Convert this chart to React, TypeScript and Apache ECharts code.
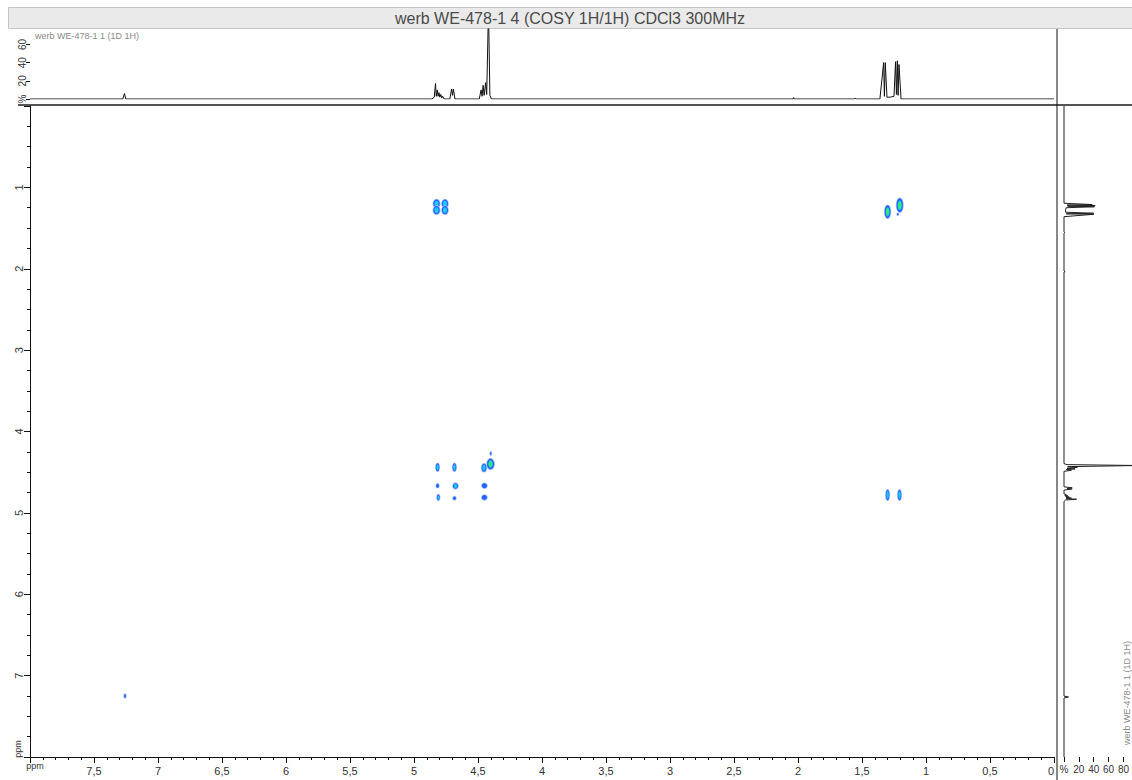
import React, { useEffect, useRef } from "react";
import * as echarts from "echarts";

const TITLE = "werb WE-478-1 4 (COSY 1H/1H) CDCl3 300MHz";
const TRACE_LABEL = "werb WE-478-1 1 (1D 1H)";
const AXIS_UNIT = "ppm";

const PPM_MIN = 0;
const PPM_MAX = 8;
const F2_STEP = 0.5;
const F1_STEP = 1;
const TOP_INT_MAX = 77;
const SIDE_INT_MAX = 90.7;
const INT_STEP = 20;

// 1D proton trace: [ppm, intensity %]
const PROTON_TRACE: number[][] = [
  [8.0, 0], [7.275, 0], [7.262, 6], [7.252, 0],
  [4.86, 0], [4.842, 2], [4.832, 17], [4.826, 3], [4.818, 10], [4.812, 3],
  [4.805, 7], [4.798, 2], [4.79, 5], [4.784, 1], [4.776, 3], [4.765, 0],
  [4.72, 0], [4.706, 11], [4.699, 4], [4.692, 11], [4.68, 0],
  [4.49, 0], [4.476, 10], [4.468, 3], [4.46, 15], [4.452, 4], [4.44, 18],
  [4.432, 5], [4.418, 100], [4.407, 4], [4.395, 0],
  [2.04, 0], [2.034, 1.5], [2.028, 0],
  [1.562, 0], [1.555, 1], [1.548, 0],
  [1.36, 0], [1.331, 40], [1.325, 3], [1.318, 40], [1.305, 2], [1.28, 2],
  [1.25, 3], [1.238, 41], [1.231, 5], [1.224, 42], [1.218, 4], [1.211, 38],
  [1.195, 0], [0, 0],
];

// 2D cross peaks: F2 (x) ppm, F1 (y) ppm, widths in ppm, contour depth
const PEAK_F2 = [4.824, 4.824, 4.758, 4.758, 1.30, 1.205, 1.22, 4.816, 4.684, 4.453, 4.402, 4.40, 4.816, 4.676, 4.45, 4.81, 4.684, 4.45, 1.30, 1.207, 7.258];
const PEAK_F1 = [1.20, 1.28, 1.20, 1.28, 1.30, 1.22, 1.33, 4.44, 4.44, 4.445, 4.40, 4.27, 4.667, 4.67, 4.667, 4.81, 4.82, 4.81, 4.78, 4.78, 7.25];
const PEAK_W2 = [0.05, 0.05, 0.048, 0.048, 0.045, 0.05, 0.012, 0.028, 0.028, 0.038, 0.055, 0.01, 0.022, 0.04, 0.04, 0.022, 0.022, 0.04, 0.028, 0.028, 0.014];
const PEAK_W1 = [0.1, 0.1, 0.1, 0.1, 0.16, 0.17, 0.025, 0.1, 0.1, 0.1, 0.13, 0.04, 0.05, 0.07, 0.06, 0.07, 0.04, 0.06, 0.13, 0.13, 0.05];
const PEAK_LEVEL = [2, 2, 2, 2, 3, 3, 1, 2, 2, 2, 3, 1, 1, 2, 1, 2, 1, 1, 2, 2, 1];

const FONT = "'Liberation Sans', Arial, sans-serif";

export default function App() {
  const ref = useRef<HTMLDivElement>(null);

  useEffect(() => {
    if (!ref.current) return;
    const chart = echarts.init(ref.current, undefined, { renderer: "svg" });

    const peaks = PEAK_F2.map((x, i) => [x, PEAK_F1[i], PEAK_W2[i], PEAK_W1[i], PEAK_LEVEL[i]]);
    const sideTrace = PROTON_TRACE.map(([p, v]) => [v, p]);

    const decimal = (v: number) => String(v).replace(".", ",");
    const hidden = {
      show: false,
      axisLine: { show: false, onZero: false },
      axisTick: { show: false },
      axisLabel: { show: false },
      splitLine: { show: false },
    };

    chart.setOption({
      animation: false,
      backgroundColor: "#ffffff",
      grid: [
        { left: 30, top: 106, width: 1024, height: 651 },
        { left: 30, top: 29, width: 1024, height: 70 },
        { left: 1064, top: 106, width: 68, height: 651 },
      ],
      xAxis: [
        {
          gridIndex: 0, type: "value", min: PPM_MIN, max: PPM_MAX, interval: F2_STEP, inverse: true,
          position: "bottom",
          axisLine: { show: true, onZero: false, lineStyle: { color: "#111", width: 1 } },
          axisTick: { show: true, inside: false, length: 6, lineStyle: { color: "#111" } },
          minorTick: { show: true, splitNumber: 5, length: 3, lineStyle: { color: "#111" } },
          splitLine: { show: false },
          axisLabel: {
            color: "#333", fontSize: 11, fontFamily: FONT, margin: 8,
            formatter: (v: number) => (v === PPM_MAX ? "" : decimal(v)),
            showMinLabel: true, showMaxLabel: true, alignMinLabel: "right",
          },
        },
        { gridIndex: 1, type: "value", min: PPM_MIN, max: PPM_MAX, inverse: true, ...hidden },
        {
          gridIndex: 2, type: "value", min: 0, max: SIDE_INT_MAX, interval: INT_STEP,
          position: "bottom",
          axisLine: { show: false, onZero: false },
          axisTick: { show: true, length: 5, lineStyle: { color: "#111" } },
          splitLine: { show: false },
          axisLabel: {
            color: "#333", fontSize: 10, fontFamily: FONT, margin: 7,
            formatter: (v: number) => (v === 0 ? "%" : String(v)),
          },
        },
      ],
      yAxis: [
        {
          gridIndex: 0, type: "value", min: PPM_MIN, max: PPM_MAX, interval: F1_STEP, inverse: true,
          position: "left",
          axisLine: { show: true, onZero: false, lineStyle: { color: "#111", width: 1 } },
          axisTick: { show: true, length: 6, lineStyle: { color: "#111" } },
          minorTick: { show: true, splitNumber: 4, length: 3, lineStyle: { color: "#111" } },
          splitLine: { show: false },
          axisLabel: {
            color: "#333", fontSize: 11, fontFamily: FONT, margin: 6, rotate: 90,
            formatter: (v: number) => (v === PPM_MIN || v === PPM_MAX ? "" : String(v)),
          },
        },
        {
          gridIndex: 1, type: "value", min: 0, max: TOP_INT_MAX, interval: INT_STEP,
          position: "left",
          axisLine: { show: false, onZero: false },
          axisTick: { show: true, length: 4, lineStyle: { color: "#111" } },
          splitLine: { show: false },
          axisLabel: {
            color: "#333", fontSize: 10, fontFamily: FONT, margin: 3, rotate: 90,
            showMaxLabel: false,
            formatter: (v: number) => (v === 0 ? "%" : v % INT_STEP === 0 ? String(v) : ""),
          },
        },
        { gridIndex: 2, type: "value", min: PPM_MIN, max: PPM_MAX, inverse: true, ...hidden },
      ],
      series: [
        {
          type: "custom",
          xAxisIndex: 0,
          yAxisIndex: 0,
          clip: true,
          data: peaks,
          encode: { x: 0, y: 1 },
          renderItem: (params: any, api: any) => {
            const c = api.coord([api.value(0), api.value(1)]);
            const s = api.size([api.value(2), api.value(3)]);
            const rx = Math.abs(s[0]) / 2;
            const ry = Math.abs(s[1]) / 2;
            const lvl = api.value(4);
            const children: any[] = [
              { type: "ellipse", shape: { cx: c[0], cy: c[1], rx: rx + 0.8, ry: ry + 0.8 }, style: { fill: "#a9c3ff" } },
              { type: "ellipse", shape: { cx: c[0], cy: c[1], rx, ry }, style: { fill: "#2362ff" } },
            ];
            if (lvl >= 2) {
              children.push({ type: "ellipse", shape: { cx: c[0], cy: c[1], rx: rx * 0.65, ry: ry * 0.7 }, style: { fill: "#1ec8f5" } });
            }
            if (lvl >= 3) {
              children.push({ type: "ellipse", shape: { cx: c[0], cy: c[1], rx: rx * 0.48, ry: ry * 0.55 }, style: { fill: "#2ff064" } });
            }
            return { type: "group", children };
          },
        },
        {
          type: "line",
          xAxisIndex: 1,
          yAxisIndex: 1,
          data: PROTON_TRACE,
          showSymbol: false,
          symbol: "none",
          clip: true,
          lineStyle: { color: "#111", width: 1 },
        },
        {
          type: "line",
          xAxisIndex: 2,
          yAxisIndex: 2,
          data: sideTrace,
          showSymbol: false,
          symbol: "none",
          clip: true,
          lineStyle: { color: "#222", width: 1 },
        },
      ],
      graphic: [
        {
          type: "rect", left: 8, top: 7, shape: { width: 1124, height: 21 },
          style: { fill: "#eaeaea", stroke: "#c4c4c4", lineWidth: 1 }, z: 0,
        },
        {
          type: "text", x: 570, y: 18,
          style: { text: TITLE, fill: "#4a4a4a", fontSize: 16, fontFamily: FONT, align: "center", verticalAlign: "middle" },
        },
        {
          type: "text", x: 35, y: 31,
          style: { text: TRACE_LABEL, fill: "#8a8a8a", fontSize: 9, fontFamily: FONT, align: "left", verticalAlign: "top" },
        },
        {
          type: "line", shape: { x1: 18, y1: 105, x2: 1132, y2: 105 },
          style: { stroke: "#555", lineWidth: 2 },
        },
        {
          type: "line", shape: { x1: 1057, y1: 29, x2: 1057, y2: 780 },
          style: { stroke: "#111", lineWidth: 1 },
        },
        {
          type: "text", x: 35, y: 766,
          style: { text: AXIS_UNIT, fill: "#333", fontSize: 9, fontFamily: FONT, align: "center", verticalAlign: "middle" },
        },
        {
          type: "text", x: 18, y: 749, rotation: Math.PI / 2,
          style: { text: AXIS_UNIT, fill: "#333", fontSize: 9, fontFamily: FONT, align: "center", verticalAlign: "middle" },
        },
        {
          type: "text", x: 1127, y: 693, rotation: Math.PI / 2,
          style: { text: TRACE_LABEL, fill: "#8a8a8a", fontSize: 9, fontFamily: FONT, align: "center", verticalAlign: "middle" },
        },
      ],
    });

    return () => chart.dispose();
  }, []);

  return (
    <div
      ref={ref}
      style={{ position: "fixed", left: 0, top: 0, width: 1132, height: 780, background: "#fff" }}
    />
  );
}
